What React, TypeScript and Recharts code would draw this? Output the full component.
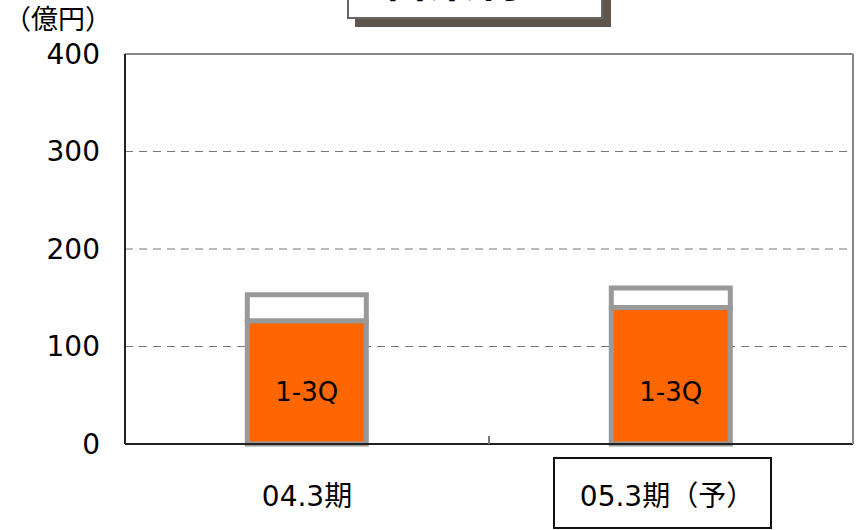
import React from "react";
import {
  BarChart,
  Bar,
  XAxis,
  YAxis,
  CartesianGrid,
  LabelList,
  ReferenceLine,
} from "recharts";

const categories = ["04.3期", "05.3期（予）"];
const q13Values = [126.5, 140];
const q4Values = [26.5, 20];
const barLabels = ["1-3Q", "1-3Q"];
const yTicks = [0, 100, 200, 300, 400];
const titleText = "営業利益";
const unitText = "（億円）";

const data = categories.map((c, i) => ({
  name: c,
  q13: q13Values[i],
  q4: q4Values[i],
  label: barLabels[i],
}));

const FONT = "'DejaVu Sans', 'Noto Sans CJK JP', sans-serif";

function XTick(props: any) {
  const { x, y, payload, index } = props;
  const half = payload && payload.offset ? payload.offset : 0;
  return (
    <g>
      {index === 0 && (
        <line x1={x + half} x2={x + half} y1={y} y2={y - 8} stroke="#777" strokeWidth={2} />
      )}
      {index === 1 && (
        <rect x={x - 117} y={y + 14} width={217} height={70} fill="#fff" stroke="#111" strokeWidth={2} />
      )}
      <text
        x={index === 1 ? x - 4 : x}
        y={y + 62}
        textAnchor="middle"
        fontSize={28}
        fontFamily={FONT}
        fill="#000"
      >
        {payload.value}
      </text>
    </g>
  );
}

function BarLabel(props: any) {
  const { x, y, width, height, value } = props;
  return (
    <text
      x={x + width / 2}
      y={y + height - 43}
      textAnchor="middle"
      fontSize={26}
      fontFamily={FONT}
      fill="#000"
    >
      {value}
    </text>
  );
}

export default function App() {
  return (
    <div style={{ position: "fixed", left: 0, top: 0, width: 859, height: 530, background: "#fff", overflow: "hidden" }}>
      <BarChart
        width={859}
        height={530}
        data={data}
        margin={{ top: 54, right: 0, bottom: 0, left: 0 }}
        barCategoryGap="33.6%"
      >
        <CartesianGrid vertical={false} horizontal stroke="#777" strokeDasharray="8 6" />
        <XAxis
          dataKey="name"
          height={86}
          tickSize={0}
          tickMargin={0}
          tickLine={false}
          axisLine={{ stroke: "#222", strokeWidth: 2 }}
          tick={<XTick />}
          interval={0}
        />
        <XAxis xAxisId="top" orientation="top" height={0} tick={false} axisLine={{ stroke: "#888", strokeWidth: 2 }} />
        <YAxis
          domain={[0, 400]}
          ticks={yTicks}
          width={125}
          tickLine={false}
          tickMargin={19}
          axisLine={{ stroke: "#222", strokeWidth: 2 }}
          tick={{ fontSize: 28, fontFamily: FONT, fill: "#000" }}
          interval={0}
        />
        <YAxis yAxisId="right" orientation="right" width={6} tick={false} axisLine={{ stroke: "#888", strokeWidth: 2 }} />
        <ReferenceLine y={400} stroke="#888" strokeWidth={2} />
        <Bar dataKey="q13" stackId="a" fill="#FF6600" stroke="#999" strokeWidth={5} isAnimationActive={false}>
          <LabelList dataKey="label" content={<BarLabel />} />
        </Bar>
        <Bar dataKey="q4" stackId="a" fill="#fff" stroke="#999" strokeWidth={5} isAnimationActive={false} />
      </BarChart>
      <div
        style={{
          position: "absolute",
          left: 4,
          top: 5,
          fontSize: 27,
          fontFamily: FONT,
          lineHeight: "30px",
          color: "#000",
          whiteSpace: "nowrap",
        }}
      >
        {unitText}
      </div>
      <div
        style={{
          position: "absolute",
          left: 347,
          top: -40,
          width: 252,
          height: 55,
          border: "2px solid #666",
          background: "#fff",
          boxShadow: "8px 8px 0 #5E564B",
          overflow: "hidden",
        }}
      >
        <div
          style={{
            position: "absolute",
            left: 0,
            right: 0,
            top: -5.5,
            textAlign: "center",
            fontSize: 46,
            fontWeight: "bold",
            lineHeight: "46px",
            fontFamily: FONT,
            color: "#000",
            whiteSpace: "nowrap",
          }}
        >
          {titleText}
        </div>
      </div>
    </div>
  );
}
